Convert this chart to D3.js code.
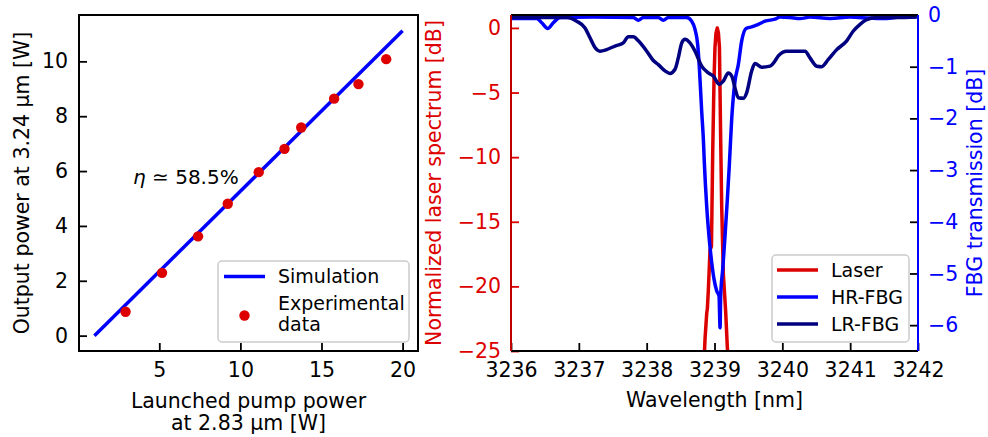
<!DOCTYPE html>
<html>
<head>
<meta charset="utf-8">
<script src="https://cdn.jsdelivr.net/npm/d3@7"></script>
<style>
body { margin: 0; background: #fff; }
text { font-family: "DejaVu Sans", sans-serif; }
</style>
</head>
<body>
<div id="chart"></div>
<script>
const width = 988
const height = 437
const fs = 20.5      // ticks and axis labels
const legendFs = 19

// left panel: output power vs pump power
const pumpPower = [2.92, 5.17, 7.39, 9.22, 11.13, 12.72, 13.75, 15.78, 17.28, 18.99]
const outputPower = [0.87, 2.29, 3.62, 4.81, 5.96, 6.81, 7.59, 8.64, 9.17, 10.08]
const simPump = [1, 20]
const simOutput = [0, 11.12]
const pumpTicks = [5, 10, 15, 20]
const outputTicks = [0, 2, 4, 6, 8, 10]

// right panel: spectra
const laserWl = [3238.845, 3238.86, 3238.885, 3238.895, 3238.909, 3238.934, 3238.955, 3238.96, 3238.974, 3238.993, 3239.007, 3239.022, 3239.041, 3239.058, 3239.073, 3239.091, 3239.106, 3239.13, 3239.165, 3239.189, 3239.207]
const laserDb = [-26, -24.1, -22.1, -21.7, -20.3, -17.2, -16.9, -15.0, -9.5, -4.0, -1.5, -0.4, 0, -0.4, -1.5, -8.6, -13.8, -19.0, -22.0, -24.7, -26]

const hrWl = [3236.01, 3236.379, 3236.453, 3236.541, 3236.624, 3236.722, 3237.2, 3237.803, 3237.877, 3237.95, 3238.172, 3238.245, 3238.319, 3238.59, 3238.664, 3238.713, 3238.752, 3238.776, 3238.811, 3238.836, 3238.85, 3238.885, 3238.923, 3238.959, 3238.993, 3239.033, 3239.067, 3239.082, 3239.091, 3239.121, 3239.155, 3239.189, 3239.218, 3239.254, 3239.302, 3239.351, 3239.401, 3239.465, 3239.549, 3239.646, 3239.745, 3239.892, 3239.966, 3240.113, 3240.261, 3240.408, 3240.703, 3240.998, 3241.293, 3241.539, 3241.735, 3241.981]
const hrDb = [-0.07, -0.07, -0.15, -0.26, -0.15, -0.05, -0.04, -0.05, -0.10, -0.05, -0.05, -0.10, -0.05, -0.05, -0.12, -0.28, -0.57, -1.0, -1.86, -2.41, -2.85, -3.7, -4.34, -4.79, -5.11, -5.34, -5.44, -6.05, -5.44, -4.92, -4.28, -3.57, -2.92, -2.0, -1.28, -0.96, -0.5, -0.26, -0.23, -0.18, -0.12, -0.08, -0.04, -0.05, -0.07, -0.04, -0.07, -0.04, -0.06, -0.07, -0.04, -0.04]

const lrWl = [3236.01, 3236.5, 3236.821, 3236.969, 3237.091, 3237.165, 3237.238, 3237.312, 3237.411, 3237.533, 3237.656, 3237.729, 3237.803, 3237.877, 3238.001, 3238.098, 3238.172, 3238.27, 3238.344, 3238.418, 3238.466, 3238.517, 3238.565, 3238.639, 3238.713, 3238.811, 3238.909, 3238.982, 3239.071, 3239.13, 3239.204, 3239.254, 3239.302, 3239.351, 3239.425, 3239.475, 3239.549, 3239.597, 3239.696, 3239.818, 3239.892, 3239.941, 3240.065, 3240.335, 3240.408, 3240.507, 3240.581, 3240.678, 3240.802, 3240.949, 3241.047, 3241.146, 3241.244, 3241.392, 3241.686, 3241.981]
const lrDb = [-0.05, -0.05, -0.05, -0.12, -0.25, -0.44, -0.63, -0.70, -0.67, -0.60, -0.54, -0.42, -0.42, -0.50, -0.70, -0.88, -0.96, -1.08, -1.13, -1.05, -0.83, -0.54, -0.47, -0.54, -0.70, -0.99, -1.12, -1.18, -1.34, -1.28, -1.12, -1.18, -1.41, -1.60, -1.61, -1.50, -1.08, -0.94, -1.01, -0.99, -0.89, -0.79, -0.70, -0.70, -0.83, -0.99, -1.0, -0.86, -0.67, -0.50, -0.31, -0.18, -0.09, -0.05, -0.05, -0.04]

const wlTicks = [3236, 3237, 3238, 3239, 3240, 3241, 3242]
const laserTicks = [0, -5, -10, -15, -20, -25]
const fbgTicks = [0, -1, -2, -3, -4, -5, -6]

const red = "#dd0000"
const blue = "#0000ff"
const navy = "#000080"

const svg = d3.select("div#chart").append("svg").attr("width", width).attr("height", height)

function styleAxis(g, tickColor, labelColor) {
    g.select(".domain").remove()
    g.selectAll(".tick line").attr("stroke", tickColor).attr("stroke-width", 1.8)
    g.selectAll(".tick text").attr("fill", labelColor).style("font-size", fs + "px").style("font-family", "DejaVu Sans")
}

// ---------- left panel ----------
const p1 = {left: 79, right: 418, top: 15, bottom: 351}
const x1 = d3.scaleLinear().domain([0.05, 20.95]).range([p1.left, p1.right])
const y1 = d3.scaleLinear().domain([-0.56, 11.69]).range([p1.bottom, p1.top])

svg.append("clipPath").attr("id", "clip1").append("rect")
    .attr("x", p1.left).attr("y", p1.top).attr("width", p1.right - p1.left).attr("height", p1.bottom - p1.top)

const g1 = svg.append("g").attr("clip-path", "url(#clip1)")
const simData = simPump.map((d, i) => [d, simOutput[i]])
g1.append("path").datum(simData)
    .attr("d", d3.line().x(d => x1(d[0])).y(d => y1(d[1])))
    .attr("fill", "none").attr("stroke", blue).attr("stroke-width", 3.5)
g1.selectAll("circle").data(pumpPower.map((d, i) => [d, outputPower[i]])).enter().append("circle")
    .attr("cx", d => x1(d[0])).attr("cy", d => y1(d[1])).attr("r", 5.2).attr("fill", red)

svg.append("g").attr("transform", `translate(0, ${p1.bottom})`)
    .call(d3.axisBottom(x1).tickValues(pumpTicks).tickSize(-8).tickPadding(11).tickFormat(d3.format("d")))
    .call(g => styleAxis(g, "#000", "#000"))
svg.append("g").attr("transform", `translate(${p1.left}, 0)`)
    .call(d3.axisLeft(y1).tickValues(outputTicks).tickSize(-8).tickPadding(11).tickFormat(d3.format("d")))
    .call(g => styleAxis(g, "#000", "#000"))

svg.append("rect").attr("x", p1.left).attr("y", p1.top).attr("width", p1.right - p1.left).attr("height", p1.bottom - p1.top)
    .attr("fill", "none").attr("stroke", "#000").attr("stroke-width", 2)

const eta = svg.append("text").attr("x", 133).attr("y", 184).style("font-size", "20px")
eta.append("tspan").text("η").style("font-style", "italic")
eta.append("tspan").text(" ≃ 58.5%")

svg.append("text").text("Output power at 3.24 μm [W]")
    .attr("transform", `translate(29, ${(p1.top + p1.bottom) / 2}) rotate(-90)`)
    .attr("text-anchor", "middle").style("font-size", fs + "px")
svg.append("text").text("Launched pump power")
    .attr("x", (p1.left + p1.right) / 2).attr("y", 408).attr("text-anchor", "middle").style("font-size", fs + "px")
svg.append("text").text("at 2.83 μm [W]")
    .attr("x", (p1.left + p1.right) / 2).attr("y", 430).attr("text-anchor", "middle").style("font-size", fs + "px")

// legend left
const leg1 = svg.append("g")
leg1.append("rect").attr("x", 218).attr("y", 261).attr("width", 191).attr("height", 81).attr("rx", 4)
    .attr("fill", "#fff").attr("fill-opacity", 0.8).attr("stroke", "#cccccc").attr("stroke-width", 1.5)
leg1.append("line").attr("x1", 224).attr("x2", 265).attr("y1", 276.5).attr("y2", 276.5).attr("stroke", blue).attr("stroke-width", 3.5)
leg1.append("text").text("Simulation").attr("x", 278).attr("y", 276.5).attr("dy", "0.35em").style("font-size", legendFs + "px")
leg1.append("circle").attr("cx", 244.5).attr("cy", 315.5).attr("r", 5.2).attr("fill", red)
leg1.append("text").text("Experimental").attr("x", 278).attr("y", 303).attr("dy", "0.35em").style("font-size", legendFs + "px")
leg1.append("text").text("data").attr("x", 278).attr("y", 324).attr("dy", "0.35em").style("font-size", legendFs + "px")

// ---------- right panel ----------
const p2 = {left: 511, right: 918, top: 15, bottom: 351}
const x2 = d3.scaleLinear().domain([3236, 3242]).range([p2.left, p2.right])
const yL = d3.scaleLinear().domain([-25, 1]).range([p2.bottom, p2.top])
const yR = d3.scaleLinear().domain([-6.5, 0]).range([p2.bottom, p2.top])

svg.append("clipPath").attr("id", "clip2").append("rect")
    .attr("x", p2.left).attr("y", p2.top).attr("width", p2.right - p2.left).attr("height", p2.bottom - p2.top)
const g2 = svg.append("g").attr("clip-path", "url(#clip2)")

g2.append("path").datum(laserWl.map((d, i) => [d, laserDb[i]]))
    .attr("d", d3.line().x(d => x2(d[0])).y(d => yL(d[1])))
    .attr("fill", "none").attr("stroke", red).attr("stroke-width", 3.5).attr("stroke-linejoin", "round")
g2.append("path").datum(hrWl.map((d, i) => [d, hrDb[i]]))
    .attr("d", d3.line().curve(d3.curveMonotoneX).x(d => x2(d[0])).y(d => yR(d[1])))
    .attr("fill", "none").attr("stroke", blue).attr("stroke-width", 3.5).attr("stroke-linejoin", "round")
g2.append("path").datum(lrWl.map((d, i) => [d, lrDb[i]]))
    .attr("d", d3.line().curve(d3.curveMonotoneX).x(d => x2(d[0])).y(d => yR(d[1])))
    .attr("fill", "none").attr("stroke", navy).attr("stroke-width", 3.5).attr("stroke-linejoin", "round")

svg.append("g").attr("transform", `translate(0, ${p2.bottom})`)
    .call(d3.axisBottom(x2).tickValues(wlTicks).tickSize(-8).tickPadding(11).tickFormat(d3.format("d")))
    .call(g => styleAxis(g, "#000", "#000"))
svg.append("g").attr("transform", `translate(${p2.left}, 0)`)
    .call(d3.axisLeft(yL).tickValues(laserTicks).tickSize(-8).tickPadding(10).tickFormat(d3.format("d")))
    .call(g => styleAxis(g, red, red))
svg.append("g").attr("transform", `translate(${p2.right}, 0)`)
    .call(d3.axisRight(yR).tickValues(fbgTicks).tickSize(-8).tickPadding(10).tickFormat(d3.format("d")))
    .call(g => styleAxis(g, "#000", blue))

// spines
svg.append("line").attr("x1", p2.left).attr("x2", p2.right).attr("y1", p2.top).attr("y2", p2.top).attr("stroke", "#000").attr("stroke-width", 2)
svg.append("line").attr("x1", p2.left).attr("x2", p2.right).attr("y1", p2.bottom).attr("y2", p2.bottom).attr("stroke", "#000").attr("stroke-width", 2)
svg.append("line").attr("x1", p2.left).attr("x2", p2.left).attr("y1", p2.top).attr("y2", p2.bottom).attr("stroke", "#c00000").attr("stroke-width", 2)
svg.append("line").attr("x1", p2.right).attr("x2", p2.right).attr("y1", p2.top).attr("y2", p2.bottom).attr("stroke", blue).attr("stroke-width", 2)

svg.append("text").text("Normalized laser spectrum [dB]").attr("fill", red)
    .attr("transform", `translate(441, ${(p2.top + p2.bottom) / 2}) rotate(-90)`)
    .attr("text-anchor", "middle").style("font-size", fs + "px")
svg.append("text").text("FBG transmission [dB]").attr("fill", blue)
    .attr("transform", `translate(982, ${(p2.top + p2.bottom) / 2}) rotate(-90)`)
    .attr("text-anchor", "middle").style("font-size", fs + "px")
svg.append("text").text("Wavelength [nm]")
    .attr("x", (p2.left + p2.right) / 2).attr("y", 407).attr("text-anchor", "middle").style("font-size", fs + "px")

// legend right
const legendItems = [
    {name: "Laser", color: red},
    {name: "HR-FBG", color: blue},
    {name: "LR-FBG", color: navy}
]
const leg2 = svg.append("g")
leg2.append("rect").attr("x", 772).attr("y", 255).attr("width", 137).attr("height", 87).attr("rx", 4)
    .attr("fill", "#fff").attr("fill-opacity", 0.8).attr("stroke", "#cccccc").attr("stroke-width", 1.5)
legendItems.forEach((d, i) => {
    const yy = 270 + i * 27
    leg2.append("line").attr("x1", 777).attr("x2", 818).attr("y1", yy).attr("y2", yy).attr("stroke", d.color).attr("stroke-width", 3.5)
    leg2.append("text").text(d.name).attr("x", 831).attr("y", yy).attr("dy", "0.35em").style("font-size", legendFs + "px")
})
</script>
</body>
</html>
